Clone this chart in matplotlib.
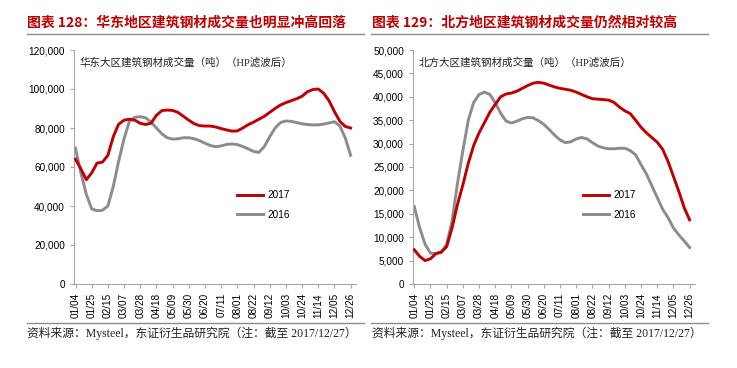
import matplotlib.pyplot as plt
from matplotlib.lines import Line2D
from matplotlib.ticker import FuncFormatter

# weekly data, x axis labelled every 3 weeks
tick_labels = ['01/04', '01/25', '02/15', '03/07', '03/28', '04/18', '05/09', '05/30', '06/20',
               '07/11', '08/01', '08/22', '09/12', '10/03', '10/24', '11/14', '12/05', '12/26']

east_2017 = [64000, 59000, 53500, 57000, 62000, 62500, 66000, 75500, 82000, 84000,
             84500, 84000, 82400, 81800, 82500, 86500, 88900, 89200, 89000, 88000,
             86000, 84000, 82200, 81200, 81000, 81000, 80500, 79700, 79000, 78400,
             78500, 80000, 81700, 83000, 84500, 86000, 88000, 90000, 91800, 93000,
             94000, 95000, 96300, 98600, 99700, 100000, 97800, 94000, 88400, 83500,
             80800, 80000]
east_2016 = [69600, 57000, 46000, 38500, 37600, 37800, 40000, 50000, 63000, 74500,
             83500, 85500, 85800, 85200, 83000, 80000, 77000, 75000, 74300, 74500,
             75000, 75000, 74500, 73500, 72200, 71000, 70400, 70800, 71600, 71800,
             71500, 70500, 69300, 68000, 67500, 70500, 75500, 80000, 82800, 83600,
             83400, 82800, 82100, 81800, 81600, 81600, 82000, 82600, 83200, 81000,
             75000, 66000]

north_2017 = [7300, 5900, 5000, 5400, 6500, 6800, 8000, 12000, 17000, 21200,
              25800, 29600, 32300, 34500, 36700, 38400, 40000, 40600, 40800, 41200,
              41800, 42400, 42900, 43100, 42900, 42500, 42100, 41800, 41600, 41400,
              41000, 40500, 40000, 39600, 39500, 39400, 39300, 38800, 37800, 37000,
              36400, 35000, 33500, 32300, 31300, 30300, 28800, 26200, 23000, 19800,
              16300, 13700]
north_2016 = [16500, 12000, 8500, 6600, 6500, 6800, 8500, 13500, 21500, 28500,
              35000, 38800, 40500, 41000, 40500, 38700, 36500, 34800, 34400, 34800,
              35300, 35600, 35500, 34900, 34100, 33000, 31800, 30800, 30200, 30400,
              31000, 31300, 31000, 30200, 29500, 29100, 28900, 28900, 29000, 29000,
              28500, 27600, 25500, 23500, 21000, 18500, 16000, 14200, 12000, 10500,
              9200, 7800]

RED = '#C00000'
GRAY = '#8C8C8C'
CJK = ['Noto Sans CJK SC', 'DejaVu Sans']
SERIF_CJK = ['Liberation Serif', 'Noto Sans CJK SC']

plt.rcParams['font.family'] = ['Liberation Sans', 'Noto Sans CJK SC']

fig = plt.figure(figsize=(7.37, 3.68), dpi=100)


def draw_panel(rect, s2017, s2016, ymax, ystep, subtitle, leg_x, x0):
    ax = fig.add_axes(rect)
    weeks = list(range(len(s2017)))
    ax.plot(weeks, s2016, color=GRAY, lw=2.1, label='2016', zorder=2)
    ax.plot(weeks, s2017, color=RED, lw=2.1, label='2017', zorder=3)
    ax.set_xlim(x0, 52.0)
    ax.set_ylim(0, ymax)
    ax.set_yticks(range(0, ymax + 1, ystep))
    ax.yaxis.set_major_formatter(FuncFormatter(lambda v, p: f'{int(v):,}'))
    ax.set_xticks(range(0, 52, 3))
    ax.set_xticklabels(tick_labels, rotation=90)
    for s in ['top', 'right']:
        ax.spines[s].set_visible(False)
    for s in ['left', 'bottom']:
        ax.spines[s].set_color('#A6A6A6')
        ax.spines[s].set_linewidth(0.8)
    ax.tick_params(axis='both', labelsize=7.2, colors='#A6A6A6', labelcolor='black',
                   length=3, width=0.8)
    ax.tick_params(axis='x', pad=3.5)
    ax.text(0.02, 0.949, subtitle, transform=ax.transAxes, fontsize=7.6,
            family=SERIF_CJK, va='center', ha='left', color='#222222')
    handles = [Line2D([], [], color=RED, lw=2.1), Line2D([], [], color=GRAY, lw=2.1)]
    ax.legend(handles, ['2017', '2016'], loc='upper left', bbox_to_anchor=(leg_x, 0.40),
              frameon=False, fontsize=7.2, handlelength=2.6, handletextpad=0.4,
              labelspacing=0.95, borderpad=0, borderaxespad=0)
    return ax


draw_panel([74 / 737, 1 - 284 / 368, 282 / 737, 234 / 368], east_2017, east_2016,
           120000, 20000, '华东大区建筑钢材成交量（吨）（HP滤波后）', 0.578, -0.28)
draw_panel([413 / 737, 1 - 284 / 368, 282 / 737, 234 / 368], north_2017, north_2016,
           50000, 5000, '北方大区建筑钢材成交量（吨）（HP滤波后）', 0.603, -0.24)

# titles and rules
fig.text(27 / 737, 1 - 23 / 368, '图表 128：华东地区建筑钢材成交量也明显冲高回落',
         family=CJK, fontsize=10, fontweight='bold', color=RED, va='center', ha='left')
fig.text(372 / 737, 1 - 23 / 368, '图表 129：北方地区建筑钢材成交量仍然相对较高',
         family=CJK, fontsize=10, fontweight='bold', color=RED, va='center', ha='left')
for (xa, xb) in [(27, 364), (371, 708)]:
    for yy in [34, 323]:
        fig.add_artist(Line2D([xa / 737, xb / 737], [1 - yy / 368, 1 - yy / 368],
                              color='#8C8C8C', lw=1.0, transform=fig.transFigure))

src = '资料来源：Mysteel，东证衍生品研究院（注：截至 2017/12/27）'
fig.text(27 / 737, 1 - 333 / 368, src, family=SERIF_CJK, fontsize=8.5,
         color='#222222', va='center', ha='left')
fig.text(372 / 737, 1 - 333 / 368, src, family=SERIF_CJK, fontsize=8.5,
         color='#222222', va='center', ha='left')

fig.savefig('out.png', dpi=100)
